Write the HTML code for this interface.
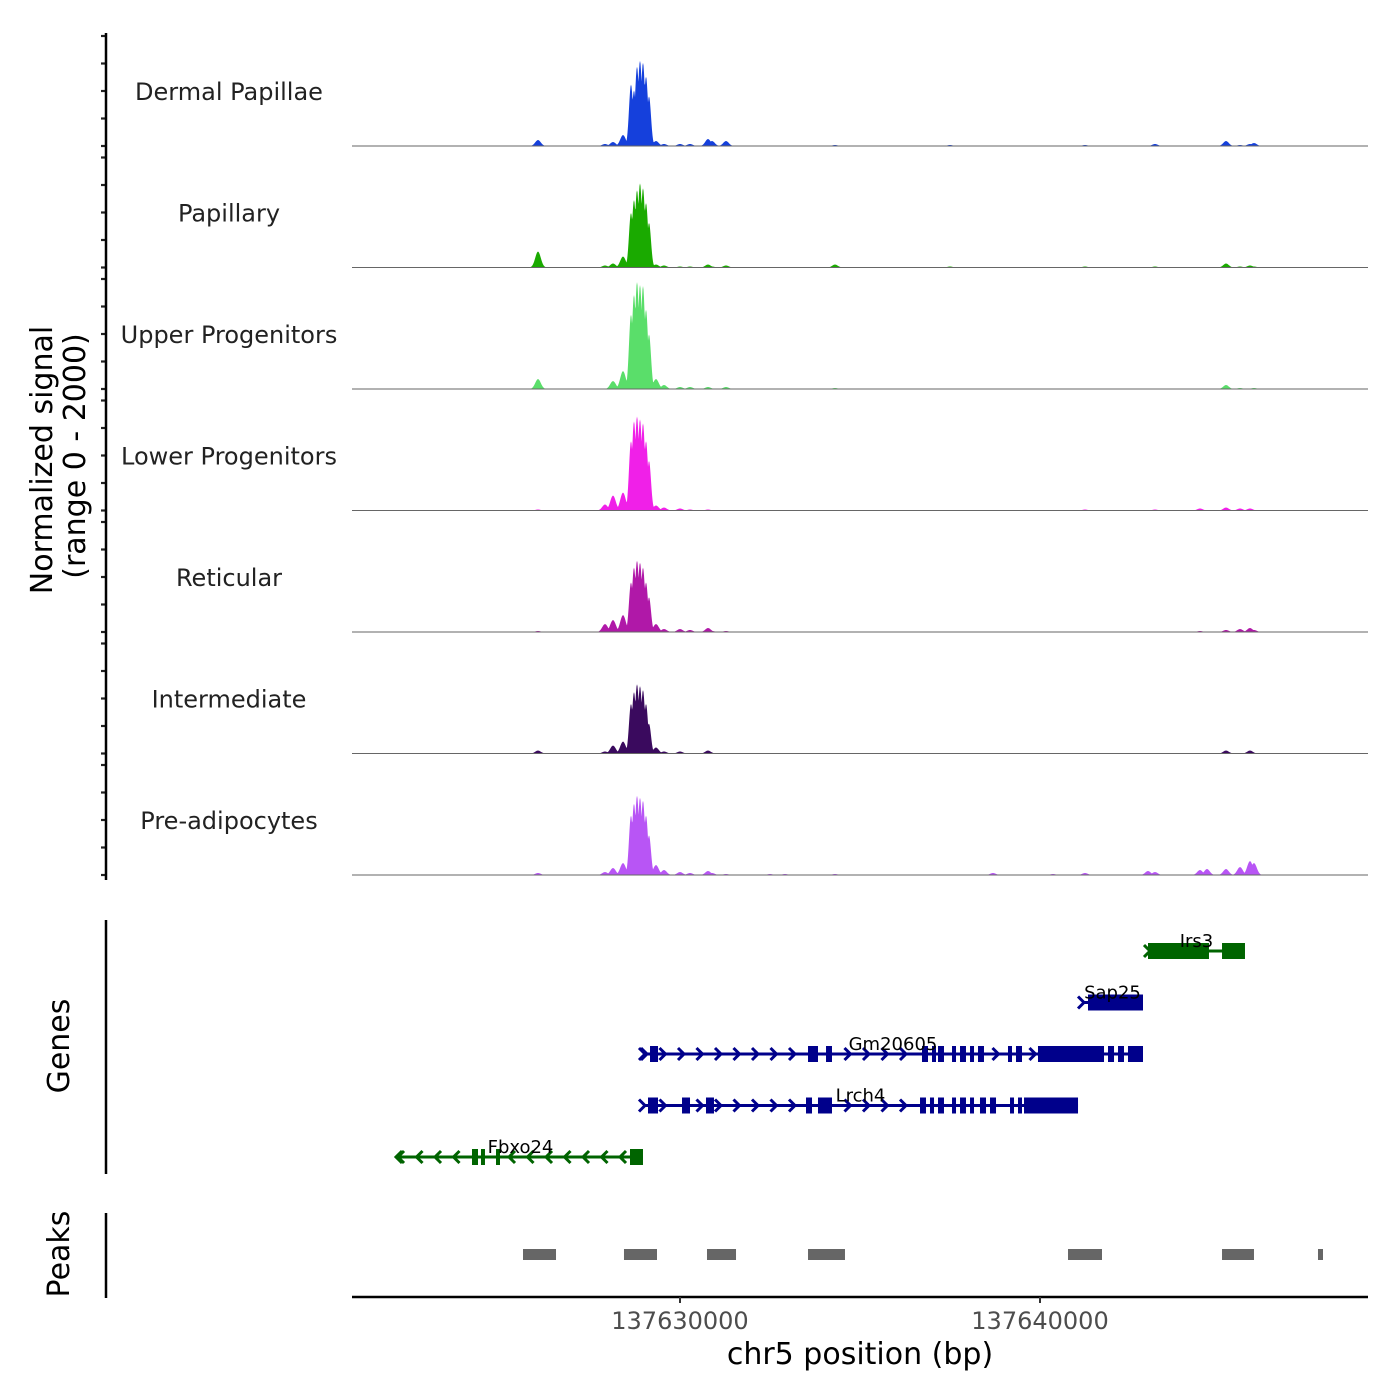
<!DOCTYPE html>
<html><head><meta charset="utf-8"><style>
html,body{margin:0;padding:0;background:#fff}
svg{display:block}
text{font-family:"DejaVu Sans","Liberation Sans",sans-serif}
</style></head><body>
<svg id="chart" width="1400" height="1400" viewBox="0 0 1400 1400" xmlns="http://www.w3.org/2000/svg">
<g id="tracks"></g>
<g id="genes"></g>
<g id="peaks"></g>
<g id="axes">
<text transform="translate(52,460) rotate(-90)" text-anchor="middle" font-size="30" fill="#000">Normalized signal</text>
<text transform="translate(85,456) rotate(-90)" text-anchor="middle" font-size="30" fill="#000">(range 0 - 2000)</text>
<text transform="translate(69,1046) rotate(-90)" text-anchor="middle" font-size="30" fill="#000">Genes</text>
<text transform="translate(69,1254) rotate(-90)" text-anchor="middle" font-size="30" fill="#000">Peaks</text>
<text x="860" y="1364" text-anchor="middle" font-size="30" fill="#000">chr5 position (bp)</text>
</g>
</svg>
<script>
// ---- data ----
const trackNames = ["Dermal Papillae","Papillary","Upper Progenitors","Lower Progenitors","Reticular","Intermediate","Pre-adipocytes"];
const trackColors = ["#1540dc","#1aaa00","#5ade6a","#f020e8","#b018a8","#3a0a5e","#b855f5"];
const peakPositions = [137626056,137627917,137628139,137628417,137628639,137628722,137628806,137628889,137628972,137629056,137629139,137629333,137629556,137630000,137630278,137630778,137630889,137631278,137632500,137632917,137634306,137637500,137638694,137640361,137641250,137643000,137643194,137644444,137644639,137645167,137645556,137645833,137645944];
const signalDermalPapillae = [108,36,72,198,1116,1008,1440,1548,1512,1260,900,90,36,36,36,126,90,90,0,0,18,18,0,0,18,0,36,0,0,90,18,36,54];
const signalPapillary = [288,36,72,198,990,1224,1404,1530,1440,1170,810,54,36,18,18,54,18,36,0,0,54,18,0,0,18,0,18,0,0,72,18,36,18];
const signalUpperProgenitors = [180,0,144,324,1350,1710,1944,1890,1872,1440,990,180,72,36,36,36,0,36,0,0,18,0,0,0,0,0,0,0,0,72,18,0,18];
const signalLowerProgenitors = [18,108,270,324,1260,1620,1710,1656,1584,1260,900,90,54,36,18,18,0,0,0,0,0,0,0,0,18,0,18,36,0,54,36,36,0];
const signalReticular = [18,144,216,306,900,1170,1296,1260,1170,900,630,144,54,54,36,72,18,18,0,0,0,0,0,0,0,0,0,18,0,36,54,72,36];
const signalIntermediate = [54,36,144,216,900,1116,1260,1224,1152,900,540,108,36,36,0,54,0,0,0,0,0,0,0,0,0,0,0,0,0,54,0,54,0];
const signalPreadipocytes = [36,54,126,216,1080,1296,1440,1404,1350,1080,720,180,90,54,36,72,36,18,18,18,18,0,36,18,36,72,54,90,108,108,144,252,216];
const allSignals = [signalDermalPapillae,signalPapillary,signalUpperProgenitors,signalLowerProgenitors,signalReticular,signalIntermediate,signalPreadipocytes];

const geneNames = ["Irs3","Sap25","Gm20605","Lrch4","Fbxo24"];
const geneStarts = [137643000,137641167,137628972,137628972,137622167];
const geneEnds = [137645694,137642861,137642861,137641056,137628972];
const geneStrands = ["+","+","+","+","-"];
const geneColors = ["#006400","#00008b","#00008b","#00008b","#006400"];
const geneExons = [
 [[137643000,137644694],[137645056,137645694]],
 [[137641333,137642861]],
 [[137629167,137629389],[137633556,137633833],[137634056,137634222],[137636722,137636889],[137637000,137637111],[137637167,137637333],[137637556,137637667],[137637778,137637944],[137638056,137638167],[137638278,137638444],[137639111,137639222],[137639333,137639500],[137639944,137641778],[137641889,137642056],[137642167,137642333],[137642444,137642861]],
 [[137629111,137629389],[137630056,137630278],[137630722,137630944],[137633500,137633667],[137633833,137634222],[137636667,137636833],[137636944,137637056],[137637167,137637333],[137637556,137637667],[137637778,137637944],[137638056,137638167],[137638333,137638500],[137638611,137638778],[137639167,137639278],[137639389,137639500],[137639556,137641056]],
 [[137624222,137624389],[137624472,137624583],[137624889,137625000],[137628611,137628972]]
];
const peakStarts = [137625639,137628444,137630750,137633556,137640778,137645056,137647722];
const peakEnds = [137626556,137629361,137631556,137634583,137641722,137645944,137647861];
const xTickValues = [137630000,137640000];
const xTickLabels = ["137630000","137640000"];
const yMax = 2000;

// ---- scales ----
const X0=352, X1=1368, BP0=137620889, BP1=137649111;
function xs(bp){return X0+(bp-BP0)/(BP1-BP0)*(X1-X0);}
const NS="http://www.w3.org/2000/svg";
function mk(tag,attrs,parent){const e=document.createElementNS(NS,tag);for(const k in attrs)e.setAttribute(k,attrs[k]);parent.appendChild(e);return e;}

// ---- signal tracks ----
const tracksG=document.getElementById('tracks');
const axesG=document.getElementById('axes');
const trackH=110;
for(let t=0;t<trackNames.length;t++){
  const base=146+t*121.5;
  const g=mk('g',{},tracksG);
  
  
  const vals=allSignals[t];
  let d='M'+X0+','+base;
  for(let px=X0;px<=X1;px+=0.5){
    let h=0;
    for(let i=0;i<peakPositions.length;i++){
      const dx=px-xs(peakPositions[i]);
      const sig=(i>=4&&i<=10)?2.0:2.8;
      const v=vals[i]*Math.exp(-(dx*dx)/(2*sig*sig));
      if(v>h)h=v;
    }
    const y=base-Math.min(h,yMax)/yMax*trackH;
    d+=' L'+px+','+y.toFixed(2);
  }
  d+=' L'+X1+','+base+' Z';
  const area=mk('path',{d:d,fill:trackColors[t],stroke:'none'},g);
  
  
  const bl=mk('line',{x1:X0,x2:X1,y1:base,y2:base,stroke:'#666',"stroke-width":1},g);
  
  
  const lab=mk('text',{x:229,y:base-46,"text-anchor":"middle","font-size":24,fill:"#222"},g);
  lab.textContent=trackNames[t];
  
  
  for(let k=0;k<5;k++){
    const ty=base-trackH+k*trackH/4;
    const tk=mk('line',{x1:101,x2:106,y1:ty,y2:ty,stroke:'#222',"stroke-width":2.2},axesG);
    
    
  }
}
let ax=mk('line',{x1:106,x2:106,y1:33,y2:880,stroke:'#000',"stroke-width":2.5},axesG);


ax=mk('line',{x1:106,x2:106,y1:920,y2:1174,stroke:'#000',"stroke-width":2.5},axesG);


ax=mk('line',{x1:106,x2:106,y1:1213,y2:1298,stroke:'#000',"stroke-width":2.5},axesG);


ax=mk('line',{x1:X0,x2:X1,y1:1297,y2:1297,stroke:'#000',"stroke-width":2.5},axesG);


for(let i=0;i<xTickValues.length;i++){
  const x=xs(xTickValues[i]);
  const tk=mk('line',{x1:x,x2:x,y1:1297,y2:1303,stroke:'#333',"stroke-width":2},axesG);
  
  
  const tl=mk('text',{x:x,y:1329,"text-anchor":"middle","font-size":24,fill:"#4d4d4d"},axesG);
  tl.textContent=xTickLabels[i];
  
  
}

// ---- genes ----
const genesG=document.getElementById('genes');
for(let gi=0;gi<geneNames.length;gi++){
  const y=951+gi*51.5;
  const col=geneColors[gi];
  const g=mk('g',{},genesG);
  
  
  const xa=xs(geneStarts[gi]), xb=xs(geneEnds[gi]);
  mk('line',{x1:xa,x2:xb,y1:y,y2:y,stroke:col,"stroke-width":3},g);
  const ex=geneExons[gi];
  const dir=geneStrands[gi]==='+'?1:-1;
  let pos=[xa];
  for(let p=xa+2;p<xb-4;p+=18.5)pos.push(p);
  for(const p of pos){
    let inside=false;
    for(const e of ex){if(p>=xs(e[0])-4&&p<=xs(e[1])+4)inside=true;}
    if(inside&&p!==xa)continue;
    const c=mk('path',{d:'M'+(p-4*dir)+','+(y-6)+' L'+(p+2*dir)+','+y+' L'+(p-4*dir)+','+(y+6),fill:'none',stroke:col,"stroke-width":3},g);
    
    
  }
  for(const e of ex){
    const r=mk('rect',{x:xs(e[0]),y:y-8,width:Math.max(2,xs(e[1])-xs(e[0])),height:16,fill:col},g);
    
    
  }
  const lx=(xa+xb)/2;
  const t=mk('text',{x:lx,y:y-4,"text-anchor":"middle","font-size":18,fill:"#000"},g);
  t.textContent=geneNames[gi];
  
  
}

// ---- peaks ----
const peaksG=document.getElementById('peaks');
for(let i=0;i<peakStarts.length;i++){
  const r=mk('rect',{x:xs(peakStarts[i]),y:1249,width:xs(peakEnds[i])-xs(peakStarts[i]),height:11,fill:'#666'},peaksG);
  
  
}
</script>
</body></html>
